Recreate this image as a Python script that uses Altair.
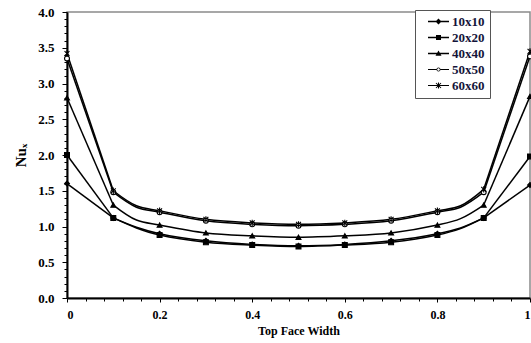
import altair as alt
import pandas as pd

# ---- data ----
x_pos = [0.0, 0.1, 0.2, 0.3, 0.4, 0.5, 0.6, 0.7, 0.8, 0.9, 1.0]
series_names = ["10x10", "20x20", "40x40", "50x50", "60x60"]
nu_10 = [1.60, 1.12, 0.90, 0.80, 0.75, 0.73, 0.75, 0.80, 0.90, 1.12, 1.58]
nu_20 = [2.00, 1.12, 0.88, 0.78, 0.74, 0.72, 0.74, 0.78, 0.88, 1.12, 1.98]
nu_40 = [2.80, 1.30, 1.02, 0.91, 0.87, 0.85, 0.87, 0.91, 1.02, 1.30, 2.82]
nu_50 = [3.35, 1.48, 1.20, 1.08, 1.03, 1.01, 1.03, 1.08, 1.20, 1.48, 3.38]
nu_60 = [3.42, 1.50, 1.22, 1.10, 1.05, 1.03, 1.05, 1.10, 1.22, 1.52, 3.45]
# extra curve readings (no markers) where the smooth curve bends
knee_x = [0.15, 0.85]
knee_10 = [0.99, 0.98]
knee_20 = [0.98, 0.97]
knee_40 = [1.09, 1.11]
knee_50 = [1.27, 1.27]
knee_60 = [1.29, 1.29]
x_ticks = [round(i * 0.04, 2) for i in range(26)]
y_ticks = [round(i * 0.1, 1) for i in range(41)]

series_vals = [nu_10, nu_20, nu_40, nu_50, nu_60]
knee_vals = [knee_10, knee_20, knee_40, knee_50, knee_60]

rows, edge_rows, mid_rows = [], [], []
for name, vals, kv in zip(series_names, series_vals, knee_vals):
    for xv, yv in zip(x_pos, vals):
        rows.append({"x": xv, "nu": yv, "grid": name})
        if xv <= 0.1:
            edge_rows.append({"x": xv, "nu": yv, "grid": name, "piece": "left"})
        if xv >= 0.9:
            edge_rows.append({"x": xv, "nu": yv, "grid": name, "piece": "right"})
        if 0.1 <= xv <= 0.9:
            mid_rows.append({"x": xv, "nu": yv, "grid": name})
    for xv, yv in zip(knee_x, kv):
        mid_rows.append({"x": xv, "nu": yv, "grid": name})
df = pd.DataFrame(rows)
df_edge = pd.DataFrame(edge_rows)
df_mid = pd.DataFrame(mid_rows).sort_values(["grid", "x"])

FONT = "Liberation Serif"
INK = "#000000"

x_enc = alt.X(
    "x:Q",
    scale=alt.Scale(domain=[0, 1], nice=False, zero=False),
    axis=alt.Axis(
        title="Top Face Width",
        values=x_ticks,
        labelExpr="abs(datum.value*5 - round(datum.value*5)) < 1e-6 ? format(datum.value, '~g') : ''",
        tickSize={"condition": {"test": "abs(datum.value*5 - round(datum.value*5)) < 1e-6", "value": 4}, "value": 3},
        labelOverlap=False,
        labelPadding=7,
        labelFontSize=12,
        titlePadding=5,
        grid=False,
    ),
)
y_enc = alt.Y(
    "nu:Q",
    scale=alt.Scale(domain=[0, 4], nice=False),
    axis=alt.Axis(
        title="Nuₓ",
        values=y_ticks,
        labelExpr="abs(datum.value*2 - round(datum.value*2)) < 1e-6 ? format(datum.value, '.1f') : ''",
        tickSize={"condition": {"test": "abs(datum.value*2 - round(datum.value*2)) < 1e-6", "value": 5}, "value": 3},
        labelOverlap=False,
        labelPadding=8,
        labelFontSize=13,
        titlePadding=9,
        grid=False,
    ),
)

edge_lines = alt.Chart(df_edge).mark_line(
    color="black", strokeWidth=1.5, interpolate="linear"
).encode(x=x_enc, y=y_enc, detail=alt.Detail(["grid:N", "piece:N"]), order="x:Q")

mid_lines = alt.Chart(df_mid).mark_line(
    color="black", strokeWidth=1.5, interpolate="catmull-rom"
).encode(x=x_enc, y=y_enc, detail="grid:N", order="x:Q")

plot_shapes = [
    "diamond",
    "square",
    "triangle-up",
    "circle",
    "M-1,-1L1,1M-1,1L1,-1M0,-1.3V1.3",
]
points = alt.Chart(df).mark_point(
    stroke="black", strokeWidth=1.1, size=24, opacity=1
).encode(
    x=x_enc,
    y=y_enc,
    shape=alt.Shape("grid:N", scale=alt.Scale(domain=series_names, range=plot_shapes), legend=None),
    fill=alt.Fill("grid:N", scale=alt.Scale(domain=series_names, range=["black", "black", "black", "white", "black"]), legend=None),
)

# legend symbols drawn as filled outlines: a thin bar (the line) with the marker on it
BAR_L = "M-2.1,-0.13L2.1,-0.13L2.1,0.13L-2.1,0.13Z"
legend_shapes = [
    BAR_L + "M0,-0.6L0.6,0L0,0.6L-0.6,0Z",
    BAR_L + "M-0.5,-0.5L0.5,-0.5L0.5,0.5L-0.5,0.5Z",
    BAR_L + "M0,-0.6L0.6,0.45L-0.6,0.45Z",
    "M-2.1,-0.1L-0.4,-0.1L-0.4,0.1L-2.1,0.1Z"
    "M0.4,-0.1L2.1,-0.1L2.1,0.1L0.4,0.1Z"
    "M0.4,0A0.4,0.4 0 1,0 -0.4,0A0.4,0.4 0 1,0 0.4,0Z"
    "M0.26,0A0.26,0.26 0 1,1 -0.26,0A0.26,0.26 0 1,1 0.26,0Z",
    "M-2.1,-0.1L2.1,-0.1L2.1,0.1L-2.1,0.1Z"
    "M-0.57,-0.43L-0.43,-0.57L0.57,0.43L0.43,0.57Z"
    "M-0.57,0.43L0.43,-0.57L0.57,-0.43L-0.43,0.57Z"
    "M-0.1,-0.6L0.1,-0.6L0.1,0.6L-0.1,0.6Z",
]
legend_layer = alt.Chart(df).transform_filter("false").mark_point(
    filled=True, color="black", opacity=1
).encode(
    x=x_enc,
    y=y_enc,
    shape=alt.Shape(
        "grid:N",
        scale=alt.Scale(domain=series_names, range=legend_shapes),
        legend=alt.Legend(
            title=None,
            orient="none",
            legendX=348,
            legendY=-2,
            symbolSize=100,
            symbolStrokeWidth=0,
            symbolFillColor="black",
            symbolOpacity=1,
            symbolOffset=12,
            labelFont=FONT,
            labelFontWeight="bold",
            labelFontSize=13,
            labelColor="#14143a",
            labelOffset=7,
            labelExpr="datum.label + '   '",
            rowPadding=2,
            padding=5,
            strokeColor="#555555",
            fillColor="white",
        ),
    ),
)

chart = (
    alt.layer(edge_lines, mid_lines, points, legend_layer)
    .resolve_scale(shape="independent", fill="independent")
    .properties(
        width=463,
        height=286,
        autosize=alt.AutoSizeParams(type="none"),
        padding={"left": 67, "top": 12, "right": 1, "bottom": 45},
    )
    .configure_view(stroke="#8a8a8a", strokeWidth=1.5)
    .configure_axis(
        labelFont=FONT,
        labelFontWeight="bold",
        labelColor=INK,
        titleFont=FONT,
        titleFontWeight="bold",
        titleColor=INK,
        domainColor="black",
        domainWidth=2,
        tickColor="black",
        tickWidth=1,
    )
    .configure_axisX(titleFontSize=12)
    .configure_axisY(titleFontSize=15)
)

chart.save("out.html", embed_options={"renderer": "svg", "actions": False})
